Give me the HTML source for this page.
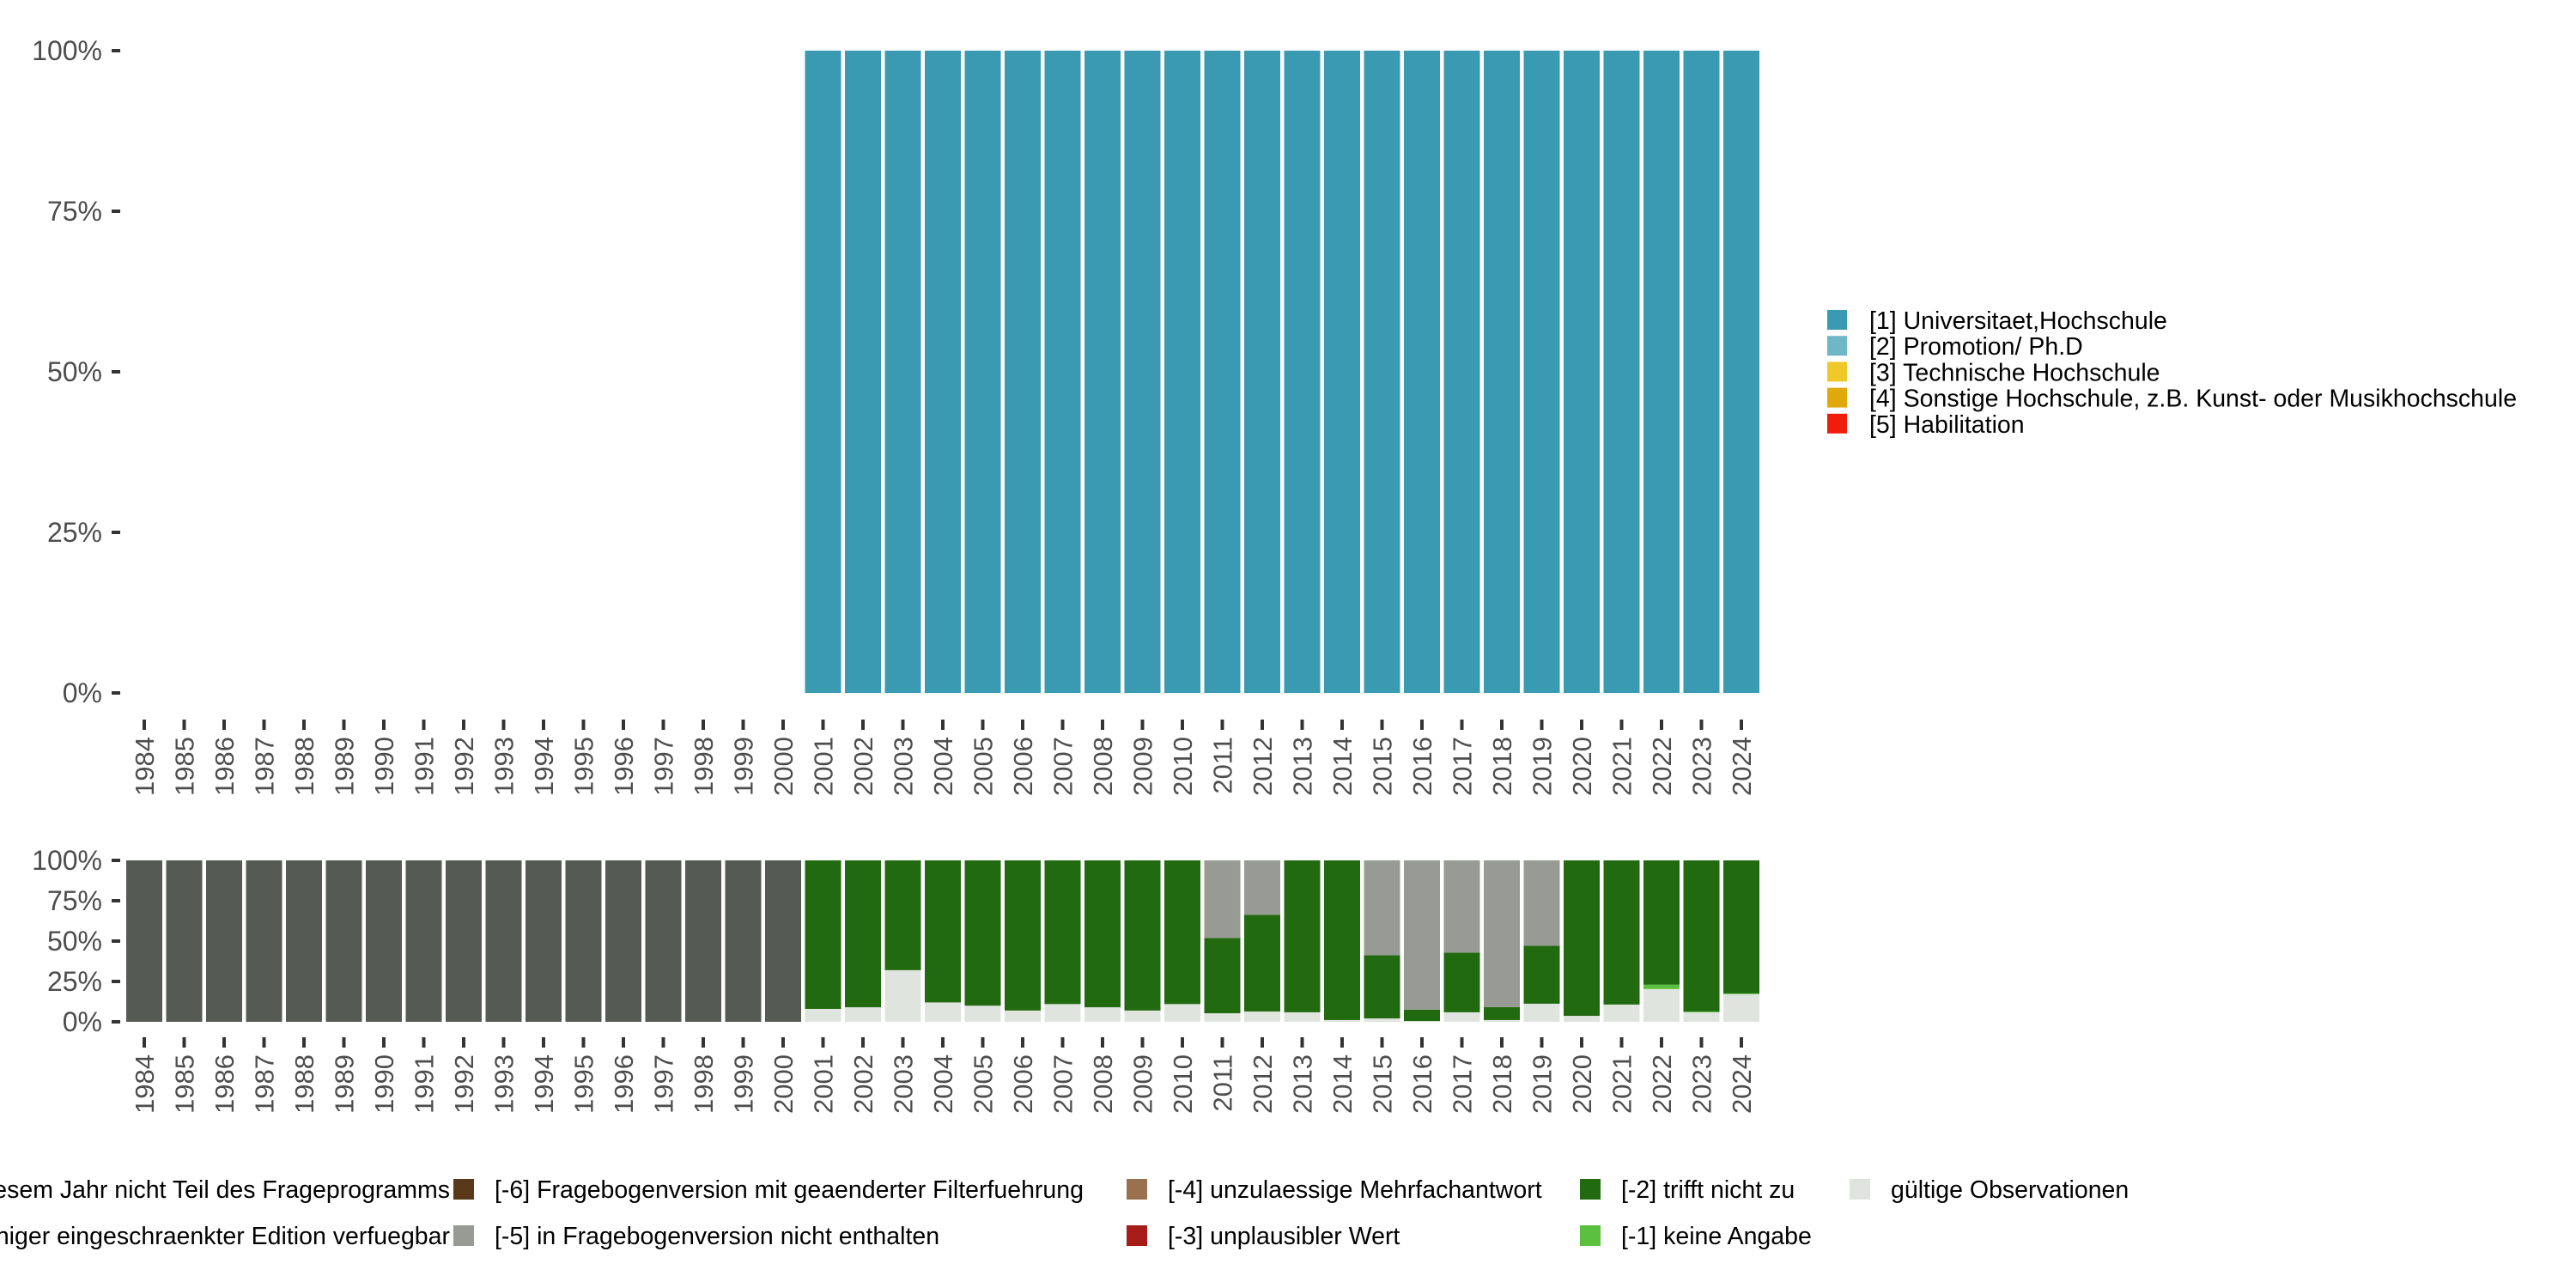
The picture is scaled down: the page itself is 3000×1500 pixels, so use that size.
<!DOCTYPE html>
<html><head><meta charset="utf-8"><style>
html,body{margin:0;padding:0;background:#fff;}
svg{display:block;font-family:"Liberation Sans","DejaVu Sans",sans-serif;}
</style></head><body>
<svg id="c" width="3000" height="1500" viewBox="0 0 3000 1500" xmlns="http://www.w3.org/2000/svg"></svg>
<script>
const years=[];for(let y=1984;y<=2024;y++)years.push(y);
// top chart: share of [1] Universitaet per year (0 = no data)
const topUni=[0,0,0,0,0,0,0,0,0,0,0,0,0,0,0,0,0,1,1,1,1,1,1,1,1,1,1,1,1,1,1,1,1,1,1,1,1,1,1,1,1];
// bottom chart series (fractions), stacked bottom->top: valid, [-1], [-2], [-5], [-8]
const valid=[0,0,0,0,0,0,0,0,0,0,0,0,0,0,0,0,0,0.08,0.09,0.32,0.12,0.10,0.07,0.11,0.09,0.07,0.11,0.053,0.064,0.059,0.011,0.021,0.005,0.059,0.011,0.112,0.037,0.107,0.203,0.059,0.171];
const noAnswer=[0,0,0,0,0,0,0,0,0,0,0,0,0,0,0,0,0,0,0,0,0,0,0,0,0,0,0,0,0,0,0,0,0,0,0,0,0,0,0.027,0.005,0.005];
const notApply=[0,0,0,0,0,0,0,0,0,0,0,0,0,0,0,0,0,0.92,0.91,0.68,0.88,0.90,0.93,0.89,0.91,0.93,0.89,0.466,0.599,0.941,0.989,0.391,0.07,0.369,0.08,0.359,0.963,0.893,0.77,0.936,0.824];
const notInVersion=[0,0,0,0,0,0,0,0,0,0,0,0,0,0,0,0,0,0,0,0,0,0,0,0,0,0,0,0.481,0.337,0,0,0.588,0.925,0.572,0.909,0.529,0,0,0,0,0];
const notAsked=[1,1,1,1,1,1,1,1,1,1,1,1,1,1,1,1,1,0,0,0,0,0,0,0,0,0,0,0,0,0,0,0,0,0,0,0,0,0,0,0,0];
const pctTicks=[0,0.25,0.5,0.75,1];
const pctLabels=["0%","25%","50%","75%","100%"];
const topLegend=["[1] Universitaet,Hochschule","[2] Promotion/ Ph.D","[3] Technische Hochschule","[4] Sonstige Hochschule, z.B. Kunst- oder Musikhochschule","[5] Habilitation"];
const topColors=["#3a9ab2","#6fb6c7","#efc92a","#dfa90c","#f01c0c"];

const svg=document.getElementById('c');const NS="http://www.w3.org/2000/svg";
function el(t,a,txt){const e=document.createElementNS(NS,t);for(const k in a)e.setAttribute(k,a[k]);if(txt!==undefined)e.textContent=txt;svg.appendChild(e);return e;}
const x0=168,step=46.5,bw=42;
const xs=i=>x0+i*step;
const yTop=v=>807-v*(807-59);
const yBot=v=>1190-v*(1190-1002);

pctTicks.forEach((t,i)=>{
 let e=el('text',{x:119,y:yTop(t)+11,'text-anchor':'end','font-size':32,fill:'#4d4d4d'},pctLabels[i]);
 
 e=el('rect',{x:130,y:yTop(t)-2,width:10,height:4,fill:'#333'});
 
 e=el('text',{x:119,y:yBot(t)+11,'text-anchor':'end','font-size':32,fill:'#4d4d4d'},pctLabels[i]);
 
 e=el('rect',{x:130,y:yBot(t)-2,width:10,height:4,fill:'#333'});
 
});
years.forEach((yr,i)=>{
 if(topUni[i]>0){
  const e=el('rect',{x:xs(i)-bw/2,y:yTop(topUni[i]),width:bw,height:yTop(0)-yTop(topUni[i]),fill:topColors[0]});
  
 }
 let t=el('rect',{x:xs(i)-2,y:838,width:4,height:12,fill:'#333'});
 
 t=el('text',{x:0,y:0,'font-size':31,fill:'#4d4d4d','text-anchor':'end',transform:`translate(${xs(i)+11},858) rotate(-90)`},yr);
 
 t=el('rect',{x:xs(i)-2,y:1208,width:4,height:12,fill:'#333'});
 
 t=el('text',{x:0,y:0,'font-size':31,fill:'#4d4d4d','text-anchor':'end',transform:`translate(${xs(i)+11},1228) rotate(-90)`},yr);
 
});
const series=[[valid,'#e0e4df','valid'],[noAnswer,'#5cc03f','no-answer'],[notApply,'#216a10','not-apply'],[notInVersion,'#979b94','not-in-version'],[notAsked,'#555b53','not-asked']];
years.forEach((yr,i)=>{
 let cum=0;
 series.forEach(([arr,col,nm])=>{
  const v=arr[i];if(v<=0)return;
  const e=el('rect',{x:xs(i)-bw/2,y:yBot(cum+v),width:bw,height:yBot(cum)-yBot(cum+v),fill:col});
  
  cum+=v;
 });
});
topLegend.forEach((lab,i)=>{
 const y=373+i*30.2;
 let e=el('rect',{x:2128,y:y-12,width:23,height:23,fill:topColors[i]});
 
 e=el('text',{x:2177,y:y+10,'font-size':28.5,fill:'#000'},lab);
 
});
const bl=[
 [null,524,1385,"[-8] Frage in diesem Jahr nicht Teil des Frageprogramms",'end'],
 [null,524,1439,"[-7] nur in weniger eingeschraenkter Edition verfuegbar",'end'],
 ['#5a391a',576,1385,"[-6] Fragebogenversion mit geaenderter Filterfuehrung"],
 ['#979b94',576,1439,"[-5] in Fragebogenversion nicht enthalten"],
 ['#99714f',1360,1385,"[-4] unzulaessige Mehrfachantwort"],
 ['#a51c18',1360,1439,"[-3] unplausibler Wert"],
 ['#216a10',1888,1385,"[-2] trifft nicht zu"],
 ['#5cc03f',1888,1439,"[-1] keine Angabe"],
 ['#e0e4df',2202,1385,"gültige Observationen"]];
bl.forEach(([col,x,y,lab,anc])=>{
 if(col){const s=el('rect',{x:x-48,y:y-12,width:24,height:24,fill:col});
  }
 const e=el('text',{x:x,y:y+10,'font-size':28.5,fill:'#000','text-anchor':anc||'start'},lab);
 
});
</script>
</body></html>
